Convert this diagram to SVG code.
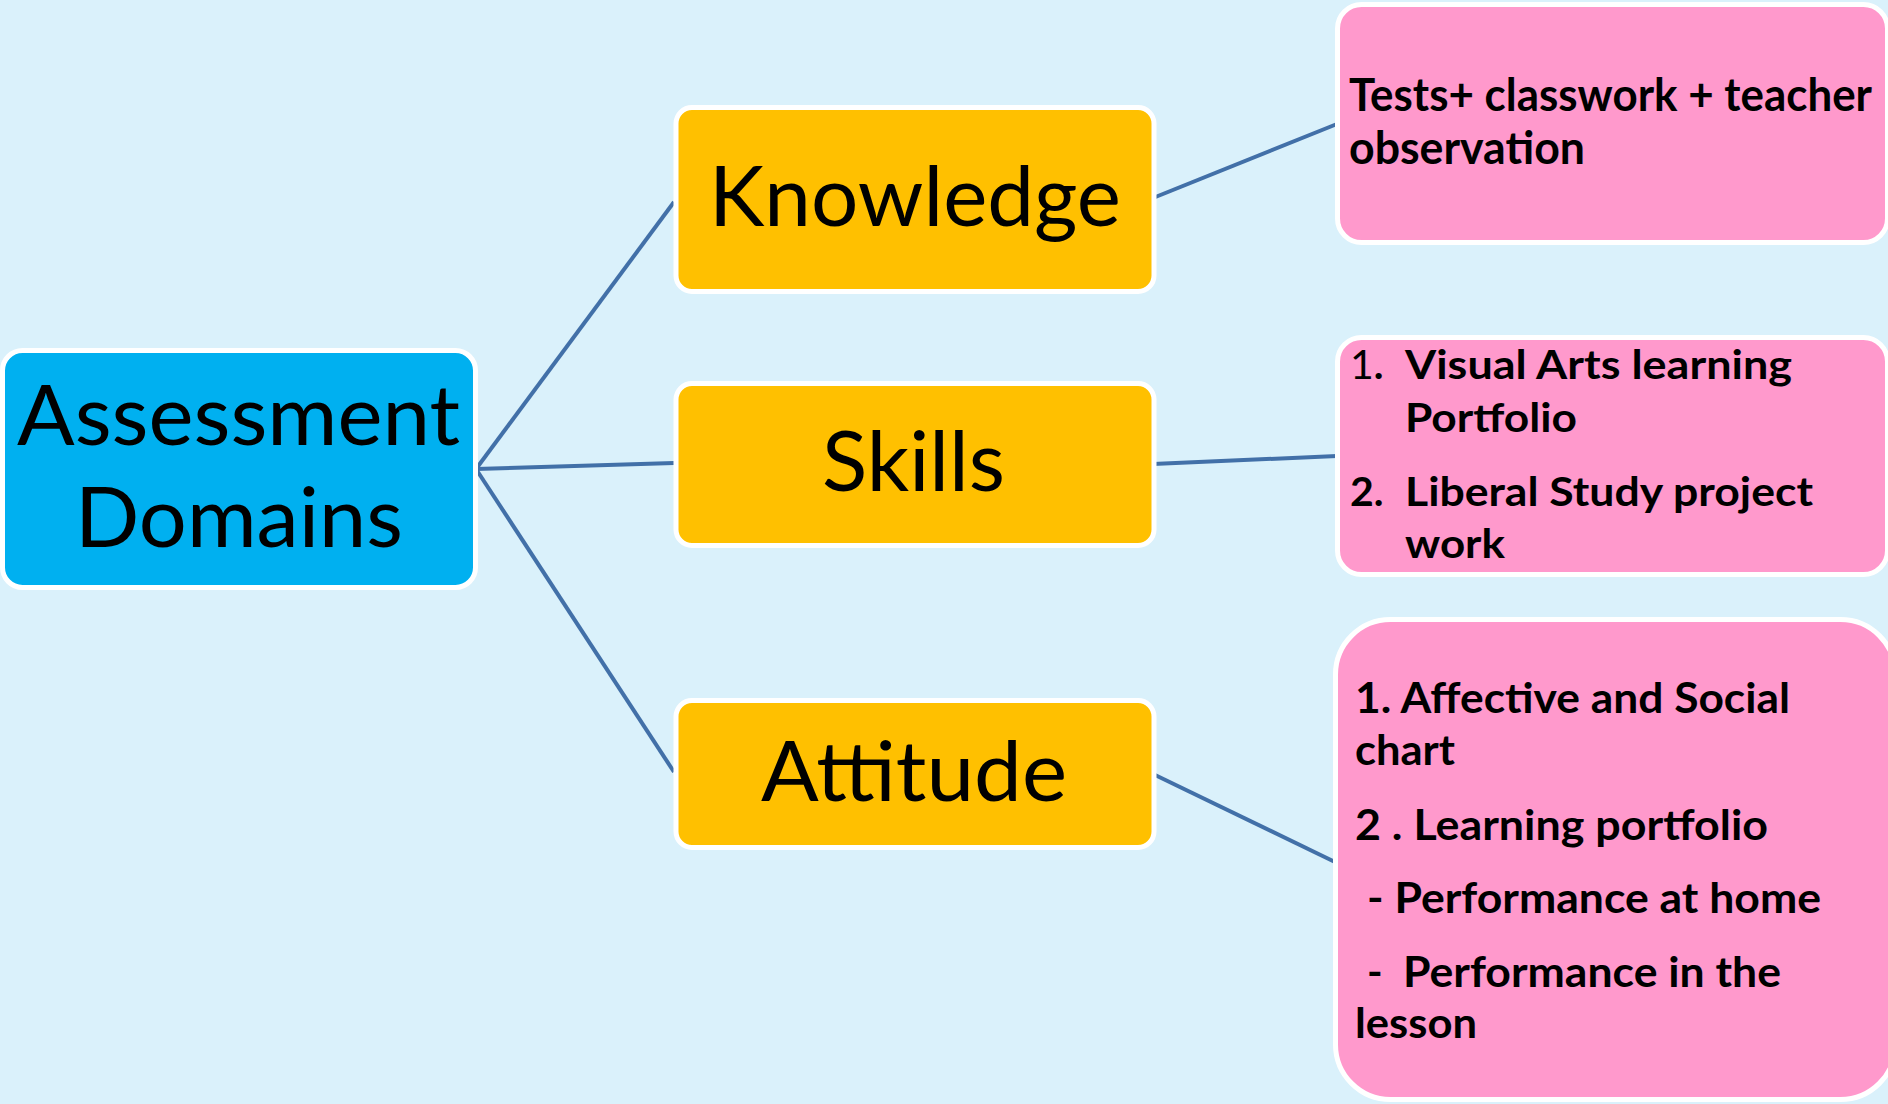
<svg xmlns="http://www.w3.org/2000/svg" width="1888" height="1104" viewBox="0 0 1888 1104">
<style>
.node{stroke:#ffffff;stroke-width:5}
.root{fill:#00b0f0}
.mid{fill:#ffc000}
.leaf{fill:#ff99cc}
.big{font-family:Lato,"Open Sans","Liberation Sans",sans-serif;font-size:83px;fill:#000}
.sm{font-family:Lato,"Open Sans","Liberation Sans",sans-serif;font-weight:bold;fill:#000}
.conn{stroke:#4270a8;stroke-width:4;fill:none}
</style>
<rect width="1888" height="1104" fill="#daf1fb"/>
<g id="connectors">
<line class="conn" x1="476" y1="469" x2="674" y2="202"/>
<line class="conn" x1="476" y1="469" x2="674" y2="463"/>
<line class="conn" x1="476" y1="469" x2="674" y2="772"/>
<line class="conn" x1="1153" y1="198" x2="1337" y2="124"/>
<line class="conn" x1="1153" y1="464" x2="1337" y2="456"/>
<line class="conn" x1="1153" y1="774" x2="1335" y2="862"/>
</g>
<g id="root">
<rect class="node root" x="2.5" y="350.5" width="473" height="237" rx="20"/>
<text class="big" x="17" y="445" textLength="443" lengthAdjust="spacingAndGlyphs">Assessment</text>
<text class="big" x="75" y="547" textLength="328" lengthAdjust="spacingAndGlyphs">Domains</text>
</g>
<g id="knowledge">
<rect class="node mid" x="676" y="107.5" width="478" height="184" rx="16"/>
<text class="big" x="709" y="226" textLength="412" lengthAdjust="spacingAndGlyphs">Knowledge</text>
</g>
<g id="skills">
<rect class="node mid" x="676" y="383.5" width="478" height="162" rx="16"/>
<text class="big" x="822" y="491" textLength="183" lengthAdjust="spacingAndGlyphs">Skills</text>
</g>
<g id="attitude">
<rect class="node mid" x="676" y="700.5" width="478" height="147" rx="16"/>
<text class="big" x="761" y="801" textLength="306" lengthAdjust="spacingAndGlyphs">Attitude</text>
</g>
<g id="knowledge-detail">
<rect class="node leaf" x="1337.5" y="4.5" width="550" height="238" rx="24"/>
<text class="sm" font-size="45" x="1349" y="111" textLength="523" lengthAdjust="spacingAndGlyphs">Tests+ classwork + teacher</text>
<text class="sm" font-size="45" x="1349" y="164" textLength="236" lengthAdjust="spacingAndGlyphs">observation</text>
</g>
<g id="skills-detail">
<rect class="node leaf" x="1337.5" y="337.5" width="550" height="237" rx="24"/>
<text class="sm" font-size="41" x="1350" y="379"><tspan font-weight="normal">1</tspan>.</text>
<text class="sm" font-size="41" x="1405" y="379" textLength="387" lengthAdjust="spacingAndGlyphs">Visual Arts learning</text>
<text class="sm" font-size="41" x="1405" y="432" textLength="172" lengthAdjust="spacingAndGlyphs">Portfolio</text>
<text class="sm" font-size="41" x="1350" y="506">2.</text>
<text class="sm" font-size="41" x="1405" y="506" textLength="408" lengthAdjust="spacingAndGlyphs">Liberal Study project</text>
<text class="sm" font-size="41" x="1405" y="558" textLength="100" lengthAdjust="spacingAndGlyphs">work</text>
</g>
<g id="attitude-detail">
<rect class="node leaf" x="1335.5" y="619.5" width="560" height="480" rx="55"/>
<text class="sm" font-size="42" x="1355" y="713" textLength="435" lengthAdjust="spacingAndGlyphs">1. Affective and Social</text>
<text class="sm" font-size="42" x="1355" y="765" textLength="100" lengthAdjust="spacingAndGlyphs">chart</text>
<text class="sm" font-size="42" x="1355" y="840" textLength="413" lengthAdjust="spacingAndGlyphs">2 . Learning portfolio</text>
<text class="sm" font-size="42" x="1367" y="913" textLength="454" lengthAdjust="spacingAndGlyphs">- Performance at home</text>
<text class="sm" font-size="42" x="1367" y="987">-</text>
<text class="sm" font-size="42" x="1403" y="987" textLength="378" lengthAdjust="spacingAndGlyphs">Performance in the</text>
<text class="sm" font-size="42" x="1355" y="1038" textLength="122" lengthAdjust="spacingAndGlyphs">lesson</text>
</g>
</svg>
